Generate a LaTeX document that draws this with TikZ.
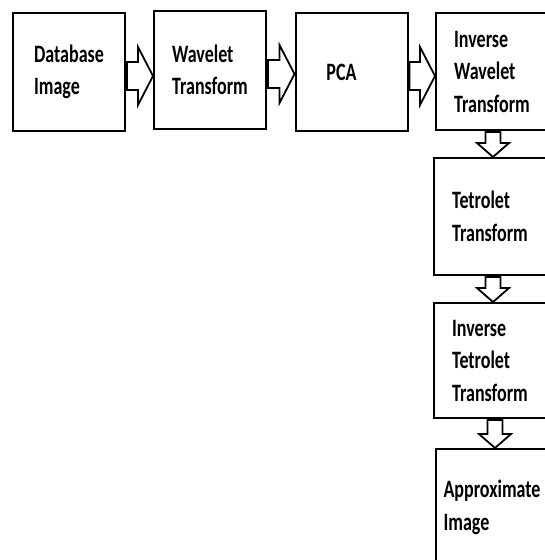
\documentclass[tikz,border=0pt]{standalone}
\usepackage{fontspec}
\setmainfont{Carlito}
\newfontfamily\boxfont[FakeStretch=0.72]{Carlito}
\usetikzlibrary{calc}
\tikzset{
    box_plain/.style={
        rectangle, draw=black, line width=2pt, fill=white,
        minimum width=112pt, minimum height=117pt, inner sep=0pt,
        align=left, font=\boxfont\bfseries\fontsize{25}{32.5}\selectfont
    },
    hollow_arrow/.style={
        draw=black, line width=1.8pt, fill=white, line join=miter
    }
}
% hollow block arrows between two named boxes
\newcommand{\harrow}[2]{%
    \draw[hollow_arrow] let \p1=(#1.east), \p2=(#2.west) in
        (\x1+1pt,\y1+10pt) -- (\x2-15pt,\y1+10pt) -- (\x2-15pt,\y1+25pt)
        -- (\x2,\y1-4pt) -- (\x2-15pt,\y1-33pt) -- (\x2-15pt,\y1-18pt)
        -- (\x1+1pt,\y1-18pt) -- cycle;}
\newcommand{\varrow}[2]{%
    \draw[hollow_arrow] let \p1=(#1.south), \p2=(#2.north) in
        (\x2-4.5pt,\y1-1pt) -- (\x2-4.5pt,\y2+14pt) -- (\x2-13pt,\y2+14pt)
        -- (\x2+3pt,\y2) -- (\x2+19pt,\y2+14pt) -- (\x2+10.5pt,\y2+14pt)
        -- (\x2+10.5pt,\y1-1pt) -- cycle;}

\begin{document}
\begin{tikzpicture}[x=1pt, y=-1pt]

    \useasboundingbox[fill=white] (0,0) rectangle (545,560);

    \node[box_plain, minimum height=118pt] (database) at (69, 72) {Database\\Image};
    \node[box_plain, minimum height=118pt] (wavelet) at (210, 70) {Wavelet\\Transform};
    \node[box_plain, minimum height=118pt] (pca) at (351.5, 72) {PCA\hspace{20pt}};
    \node[box_plain] (invwavelet) at (492, 71.5) {Inverse\\Wavelet\\Transform};

    \node[box_plain] (tetrolet) at (490, 216.5) {Tetrolet\\Transform};
    \node[box_plain, minimum height=115pt] (invtetrolet) at (490, 360.5) {Inverse\\Tetrolet\\Transform};
    \node[box_plain] (approx) at (492, 507.5) {Approximate\\Image};

    \harrow{database}{wavelet}
    \harrow{wavelet}{pca}
    \harrow{pca}{invwavelet}

    \varrow{invwavelet}{tetrolet}
    \varrow{tetrolet}{invtetrolet}
    \varrow{invtetrolet}{approx}

\end{tikzpicture}
\end{document}
